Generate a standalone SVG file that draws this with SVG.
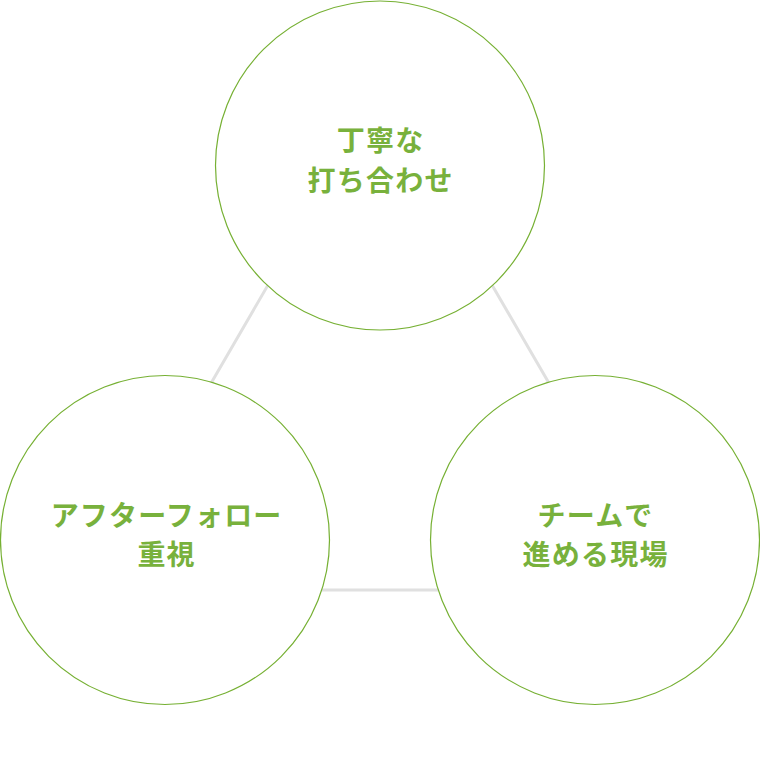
<svg xmlns="http://www.w3.org/2000/svg" width="760" height="761" viewBox="0 0 760 761">
<style>
.edge{fill:none;stroke:#e0e0e0;stroke-width:3}
.circ{fill:#fff;stroke:#76b033;stroke-width:1.2}
.lbl{font-family:"Noto Sans CJK JP","Noto Sans",sans-serif;font-weight:700;font-size:28px;fill:#78b13c;text-anchor:middle;letter-spacing:1.2px}
</style>
<rect width="760" height="761" fill="#fff"/>
<g id="connectors">
<polygon class="edge" points="380,92 91,590 669,590"/>
</g>
<g id="node-top">
<circle class="circ" cx="380" cy="165.5" r="164.5"/>
<text class="lbl" x="380.6" y="151">丁寧な</text>
<text class="lbl" x="380.6" y="191">打ち合わせ</text>
</g>
<g id="node-left">
<circle class="circ" cx="165" cy="540" r="164.5"/>
<text class="lbl" x="166.6" y="526">アフターフォロー</text>
<text class="lbl" x="166.6" y="565">重視</text>
</g>
<g id="node-right">
<circle class="circ" cx="595" cy="540" r="164.5"/>
<text class="lbl" x="595.6" y="526">チームで</text>
<text class="lbl" x="595.6" y="565">進める現場</text>
</g>
</svg>
